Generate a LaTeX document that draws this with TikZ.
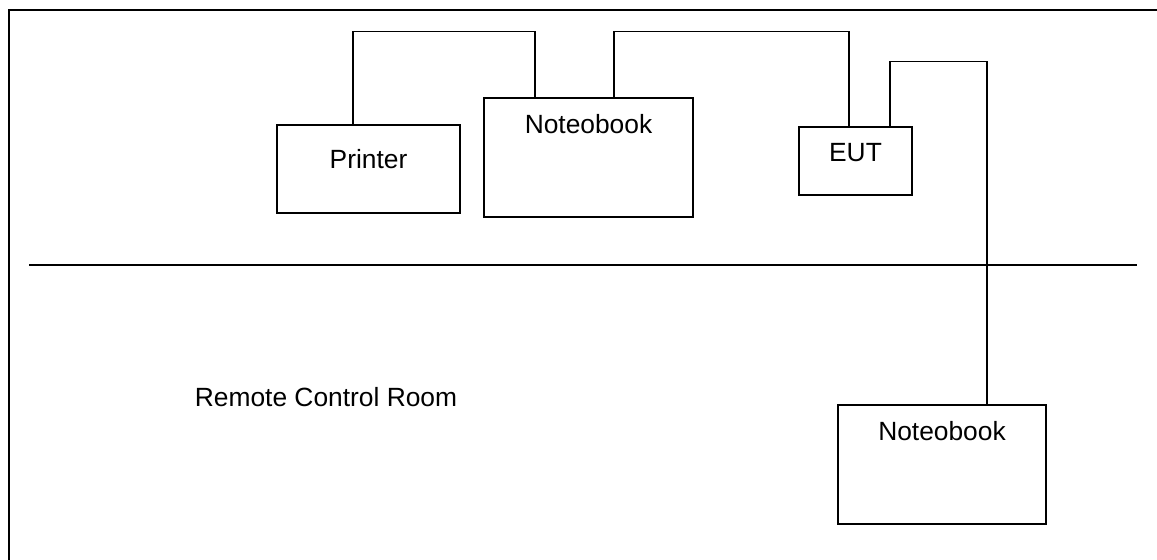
\documentclass[tikz,border=0pt]{standalone}
\usepackage{fontspec}
\setmainfont{Liberation Sans}
\usepackage{tikz}
\usetikzlibrary{positioning}

\tikzset{
  unit/.style={draw,line width=.7pt,inner sep=0pt},
  tag/.style={font=\fontsize{15}{18}\selectfont,inner sep=0pt},
  cable/.style={line width=.7pt}
}

\begin{document}
\begin{tikzpicture}
\useasboundingbox (0,0) rectangle (23.14,11.2);
% room walls
\draw[line width=1pt] (.18,0) |- (23.14,11.0);
\draw[line width=.7pt] (.58,5.9)--(22.74,5.9);
% equipment
\node[unit,minimum width=3.66cm,minimum height=1.76cm] (printer) at (7.37,7.82) {};
\node[unit,minimum width=4.18cm,minimum height=2.38cm] (nb1) at (11.77,8.05) {};
\node[unit,minimum width=2.26cm,minimum height=1.36cm] (eut) at (17.11,7.98) {};
\node[unit,minimum width=4.16cm,minimum height=2.38cm] (nb2) at (18.84,1.91) {};
\node[tag] (printerlbl) at ([yshift=-.70cm]printer.north) {Printer};
\node[tag] (nb1lbl) at ([yshift=-.54cm]nb1.north) {Noteobook};
\node[tag] (eutlbl) at ([yshift=-.52cm]eut.north) {EUT};
\node[tag] (nb2lbl) at ([yshift=-.54cm]nb2.north) {Noteobook};
\node[tag] (room) at (6.52,3.26) {Remote Control Room};
% cables
\draw[cable] ([xshift=-.31cm]printer.north) -- ++(0,1.86) -| ([xshift=-1.07cm]nb1.north);
\draw[cable] ([xshift=.51cm]nb1.north) -- ++(0,1.32) -| ([xshift=-.13cm]eut.north);
\draw[cable] ([xshift=.69cm]eut.north) -- ++(0,1.30) -| ([xshift=.90cm]nb2.north);
\end{tikzpicture}
\end{document}
